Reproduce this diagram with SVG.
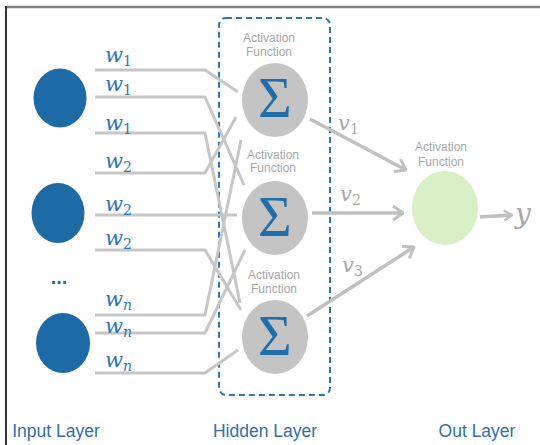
<svg xmlns="http://www.w3.org/2000/svg" width="540" height="445" viewBox="0 0 540 445">
<style>
.wire{fill:none;stroke:#c6c6c6;stroke-width:3;stroke-linejoin:round}
.arr{fill:none;stroke:#c0c0c0;stroke-width:3.5}
.w{font-family:"DejaVu Serif","Liberation Serif",serif;font-style:italic;font-size:21px;fill:#2e75b6}
.v{font-family:"DejaVu Serif","Liberation Serif",serif;font-style:italic;font-size:21px;fill:#a8a8a8}
.sub{font-size:14px;font-style:normal}
.subi{font-size:14px}
.af{font-family:"Liberation Sans",Arial,sans-serif;font-size:12px;fill:#a6a6a6;text-anchor:middle}
.layer{font-family:"Liberation Sans",Arial,sans-serif;font-size:17.5px;fill:#2f6fa5;text-anchor:middle}
.in{fill:#1d6aa6}
.sig{fill:#c4c4c4}
.sigma{font-family:"Liberation Serif","Times New Roman",serif;font-size:58px;fill:#1f6eaa;text-anchor:middle}
</style>
<defs>
<marker id="ah" viewBox="0 0 12 16" refX="11" refY="8" markerWidth="12" markerHeight="16" markerUnits="userSpaceOnUse" orient="auto">
<path d="M1,1 L11,8 L1,15" fill="none" stroke="#c0c0c0" stroke-width="3"/>
</marker>
<marker id="ahs" viewBox="0 0 10 12" refX="9" refY="6" markerWidth="10" markerHeight="12" markerUnits="userSpaceOnUse" orient="auto">
<path d="M1,1 L9,6 L1,11" fill="none" stroke="#c0c0c0" stroke-width="2.5"/>
</marker>
</defs>
<rect width="540" height="445" fill="#ffffff"/>
<line x1="6" y1="7" x2="540" y2="7" stroke="#808080" stroke-width="2.5"/>
<line x1="6" y1="6" x2="6" y2="445" stroke="#333333" stroke-width="2"/>

<g id="hidden-box">
<rect x="219" y="18" width="111" height="377" rx="7" fill="none" stroke="#2e75b6" stroke-width="2" stroke-dasharray="6 4"/>
</g>

<g id="connectors">
<polyline class="wire" points="95,70 205,70 238,92"/>
<polyline class="wire" points="95,97 205,97 244,185"/>
<polyline class="wire" points="95,133 205,133 240,303"/>
<polyline class="wire" points="95,173 205,173 236,117"/>
<polyline class="wire" points="95,215 237,215"/>
<polyline class="wire" points="95,250 205,250 241,310"/>
<polyline class="wire" points="95,315 205,315 241,140"/>
<polyline class="wire" points="95,333 205,333 245,250"/>
<polyline class="wire" points="95,373 205,373 238,350"/>
<line class="arr" x1="310" y1="119" x2="406" y2="170" marker-end="url(#ah)"/>
<line class="arr" x1="312" y1="213" x2="403" y2="213" marker-end="url(#ah)"/>
<line class="arr" x1="307" y1="316" x2="414" y2="247" marker-end="url(#ah)"/>
<line class="arr" x1="480" y1="217" x2="512" y2="215" stroke-width="3" marker-end="url(#ahs)"/>
</g>

<g id="weights">
<text class="w" x="105" y="62">w<tspan class="sub" dy="4">1</tspan></text>
<text class="w" x="105" y="91">w<tspan class="sub" dy="4">1</tspan></text>
<text class="w" x="105" y="130">w<tspan class="sub" dy="4">1</tspan></text>
<text class="w" x="105" y="168">w<tspan class="sub" dy="4">2</tspan></text>
<text class="w" x="105" y="211">w<tspan class="sub" dy="4">2</tspan></text>
<text class="w" x="105" y="245">w<tspan class="sub" dy="4">2</tspan></text>
<text class="w" x="105" y="306">w<tspan class="subi" dy="4">n</tspan></text>
<text class="w" x="105" y="333">w<tspan class="subi" dy="4">n</tspan></text>
<text class="w" x="105" y="367">w<tspan class="subi" dy="4">n</tspan></text>
<text class="v" x="338" y="130">v<tspan class="sub" dy="4">1</tspan></text>
<text class="v" x="340" y="201">v<tspan class="sub" dy="4">2</tspan></text>
<text class="v" x="342" y="272">v<tspan class="sub" dy="4">3</tspan></text>
</g>

<g id="input1"><ellipse class="in" cx="60" cy="98" rx="26.5" ry="29.5"/></g>
<g id="input2"><ellipse class="in" cx="58" cy="213" rx="26.5" ry="30"/></g>
<g id="input-dots"><text x="59" y="284" font-family="Liberation Sans,Arial,sans-serif" font-size="20" font-weight="bold" fill="#1d6aa6" text-anchor="middle">...</text></g>
<g id="input3"><ellipse class="in" cx="63" cy="343" rx="27" ry="30"/></g>

<g id="hidden1">
<text class="af" x="269" y="42">Activation</text>
<text class="af" x="269" y="56">Function</text>
<ellipse class="sig" cx="275" cy="100" rx="33" ry="37"/>
<text class="sigma" x="275" y="117">Σ</text>
</g>
<g id="hidden2">
<text class="af" x="273" y="159">Activation</text>
<text class="af" x="273" y="172">Function</text>
<ellipse class="sig" cx="275" cy="218" rx="33" ry="37"/>
<text class="sigma" x="275" y="236">Σ</text>
</g>
<g id="hidden3">
<text class="af" x="274" y="279">Activation</text>
<text class="af" x="274" y="293">Function</text>
<ellipse class="sig" cx="275" cy="337" rx="33" ry="37"/>
<text class="sigma" x="275" y="355">Σ</text>
</g>

<g id="output">
<text class="af" x="441" y="151">Activation</text>
<text class="af" x="441" y="166">Function</text>
<ellipse cx="445" cy="208" rx="33" ry="37" fill="#d9efc6"/>
<text class="v" x="515" y="223" style="font-size:28px">y</text>
</g>

<g id="layer-labels">
<text class="layer" x="56" y="437">Input Layer</text>
<text class="layer" x="265" y="437">Hidden Layer</text>
<text class="layer" x="477" y="437">Out Layer</text>
</g>
</svg>
